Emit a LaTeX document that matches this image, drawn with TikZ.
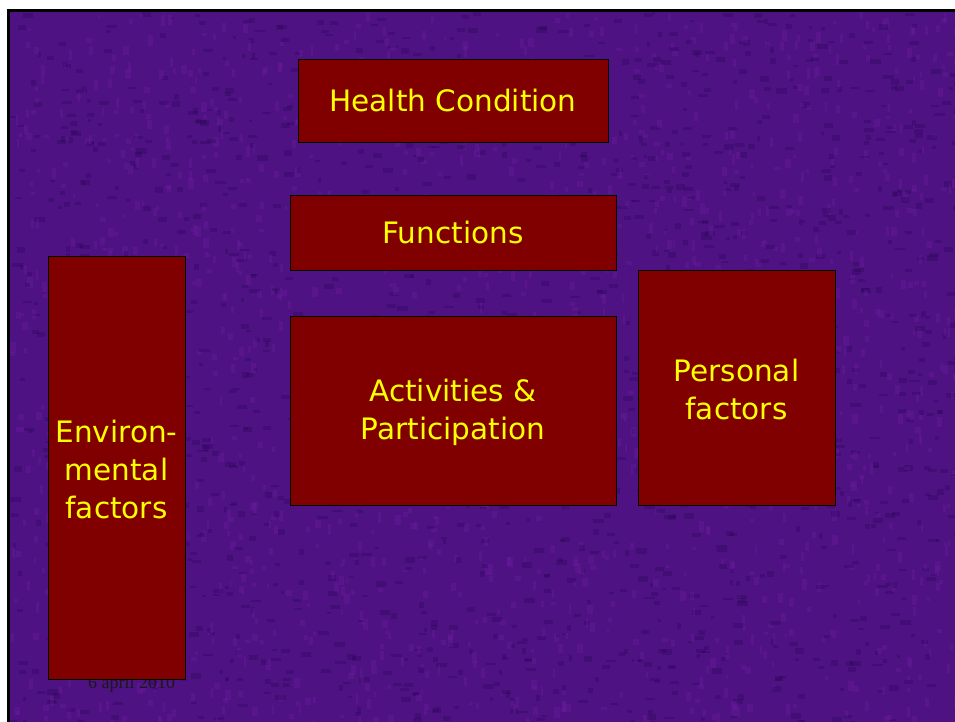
\documentclass[tikz,border=0pt]{standalone}
\usepackage{fontspec}
\setmainfont{DejaVu Sans}
\newfontfamily\datefont{Liberation Serif}
\usetikzlibrary{calc}
\definecolor{bgpurple}{RGB}{78,18,130}
\definecolor{bgdark}{RGB}{45,6,90}
\definecolor{bglight}{RGB}{115,30,165}
\definecolor{boxred}{RGB}{128,0,0}
\definecolor{boxtext}{RGB}{255,255,0}
\tikzset{
	icfbox/.style={draw=black, line width=0.8pt, fill=boxred, text=boxtext, inner sep=0pt, align=center,
		font=\fontsize{29.5}{38}\selectfont},
}

\begin{document}
\begin{tikzpicture}[x=1pt, y=-1pt]
			%%%%% START %%%%%
			
			\useasboundingbox (0, 0) rectangle (955, 722);
			\fill[white] (0, 0) rectangle (955, 722);
			\fill[black] (7, 9) rectangle (955, 722);
			\fill[bgpurple] (10, 12) rectangle (955, 722);
			
			% mottled background
			\pgfmathsetseed{17}
			\begin{scope}
				\clip (10, 12) rectangle (955, 722);
				\foreach \i in {1,...,3000} {
					\pgfmathsetmacro{\px}{10+945*rnd}
					\pgfmathsetmacro{\py}{12+710*rnd}
					\pgfmathsetmacro{\pw}{3+8*rnd}
					\pgfmathsetmacro{\ph}{2+4*rnd}
					\ifodd\i
						\fill[bgdark, opacity=0.35] (\px, \py) rectangle ++(\pw, \ph);
					\else
						\fill[bglight, opacity=0.3] (\px, \py) rectangle ++(\ph, \pw);
					\fi
				}
			\end{scope}
			
			\node[anchor=base west, inner sep=0pt, text=black!90, font=\datefont\fontsize{18}{20}\selectfont] (date) at (88, 688) {6 april 2010};
			
			\node[icfbox, minimum width=310, minimum height=83] (health) at (453, 100.5) {Health Condition};
			\node[icfbox, minimum width=326, minimum height=75] (functions) at (453, 232.5) {Functions};
			\node[icfbox, minimum width=326, minimum height=189] (activities) at (453, 410.5) {\strut Activities \&\\Participation};
			\node[icfbox, minimum width=197, minimum height=235] (personal) at (736.5, 387.5) {\strut Personal\\factors};
			\node[icfbox, minimum width=137, minimum height=423] (environ) at (116.5, 467.5) {\strut Environ-\\mental\\factors};
			
			%%%%% END %%%%%
\end{tikzpicture}
\end{document}
